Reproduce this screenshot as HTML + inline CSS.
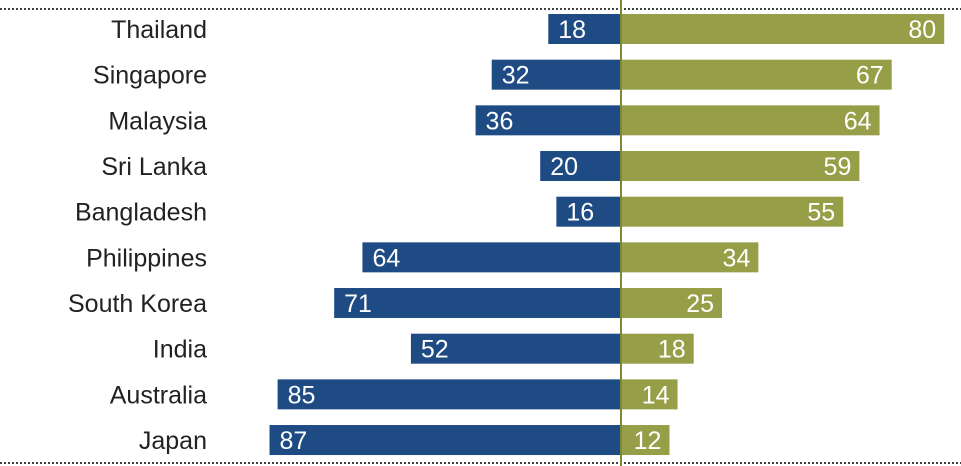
<!DOCTYPE html>
<html><head><meta charset="utf-8"><style>
html,body{margin:0;padding:0;background:#fff;}
svg{display:block;font-family:"Liberation Sans",Arial,sans-serif;}
</style></head><body>
<svg id="chart" width="961" height="466" viewBox="0 0 961 466" xmlns="http://www.w3.org/2000/svg">
<line x1="0" y1="9" x2="961" y2="9" stroke="#444" stroke-width="2" stroke-dasharray="2,2"/>
<line x1="0" y1="463" x2="961" y2="463" stroke="#444" stroke-width="2" stroke-dasharray="2,2"/>
<g id="bars"></g>
<line x1="621" y1="0" x2="621" y2="466" stroke="#7d8a35" stroke-width="2"/>
</svg>
<script>
const countries = ["Thailand","Singapore","Malaysia","Sri Lanka","Bangladesh","Philippines","South Korea","India","Australia","Japan"];
const leftValues = [18,32,36,20,16,64,71,52,85,87];
const rightValues = [80,67,64,59,55,34,25,18,14,12];

const NS = "http://www.w3.org/2000/svg";
const cx = 621, scale = 4.04, top0 = 14, step = 45.67, barH = 30;
const xLen = v => v * scale;
const yRow = i => top0 + i * step;
const g = document.getElementById("bars");
function mk(tag, attrs){const e=document.createElementNS(NS,tag);for(const k in attrs)e.setAttribute(k,attrs[k]);return e;}
countries.forEach((c,i)=>{
  const y = yRow(i);
  const lab = mk("text",{x:207,y:y+barH/2+9,"text-anchor":"end","font-size":25,fill:"#222"});
  
  
  lab.textContent = c; g.appendChild(lab);
  const lw = xLen(leftValues[i]);
  const lb = mk("rect",{x:cx-lw,y:y,width:lw,height:barH,fill:"#1f4b84"});
  
  
  g.appendChild(lb);
  const lt = mk("text",{x:cx-lw+10,y:y+barH/2+9,"font-size":25,fill:"#fff"});
  
  
  lt.textContent = leftValues[i]; g.appendChild(lt);
  const rw = xLen(rightValues[i]);
  const rb = mk("rect",{x:cx,y:y,width:rw,height:barH,fill:"#969f47"});
  
  
  g.appendChild(rb);
  const rt = mk("text",{x:cx+rw-8,y:y+barH/2+9,"text-anchor":"end","font-size":25,fill:"#fff"});
  
  
  rt.textContent = rightValues[i]; g.appendChild(rt);
});
</script>
</body></html>
